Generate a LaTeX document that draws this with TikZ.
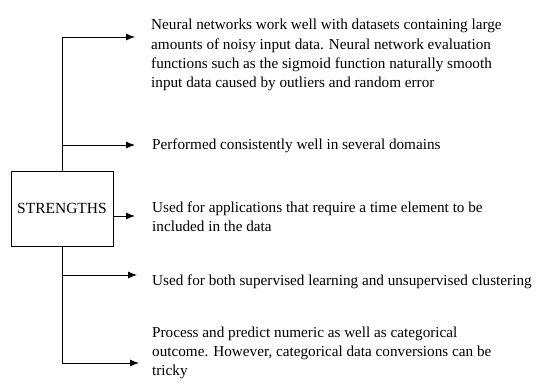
\documentclass[tikz,border=0pt]{standalone}
\usepackage{fontspec}
\setmainfont{Liberation Serif}
\usetikzlibrary{arrows.meta,positioning}

\begin{document}
\begin{tikzpicture}[
  x=1pt, y=-1pt,
  box/.style={
    draw,
    line width=0.9pt,
    minimum width=102pt,
    minimum height=75pt,
    font=\fontsize{15.5}{19}\selectfont
  },
  item/.style={
    anchor=west,
    align=left,
    inner sep=0pt,
    font=\fontsize{15.2}{19.2}\selectfont
  },
  line/.style={-{Latex[length=9pt,width=7pt]}, line width=0.9pt}
]
\useasboundingbox (0,0) rectangle (542,389);

% Central box
\node[box] (str) at (62,208.5) {STRENGTHS};

% Arrow ends
\coordinate (t1) at (135,37);
\coordinate (t2) at (135,145);
\coordinate (t3) at (135,216);
\coordinate (t4) at (137,275);
\coordinate (t5) at (139,363);

% Items
\node[item] (s1) at (151,55)
{Neural networks work well with datasets containing large\\
amounts of noisy input data. Neural network evaluation\\
functions such as the sigmoid function naturally smooth\\
input data caused by outliers and random error};

\node[item] (s2) at (152,146)
{Performed consistently well in several domains};

\node[item] (s3) at (152,217)
{Used for applications that require a time element to be\\
included in the data};

\node[item] (s4) at (152,282)
{Used for both supervised learning and unsupervised clustering};

\node[item] (s5) at (152,353)
{Process and predict numeric as well as categorical\\
outcome. However, categorical data conversions can be\\
tricky};

% Connectors
\draw[line] (str.north) |- (t1);
\draw[line] (str.north) |- (t2);
\draw[line] (str.east |- t3) -- (t3);
\draw[line] (str.south) |- (t4);
\draw[line] (str.south) |- (t5);

\end{tikzpicture}
\end{document}
